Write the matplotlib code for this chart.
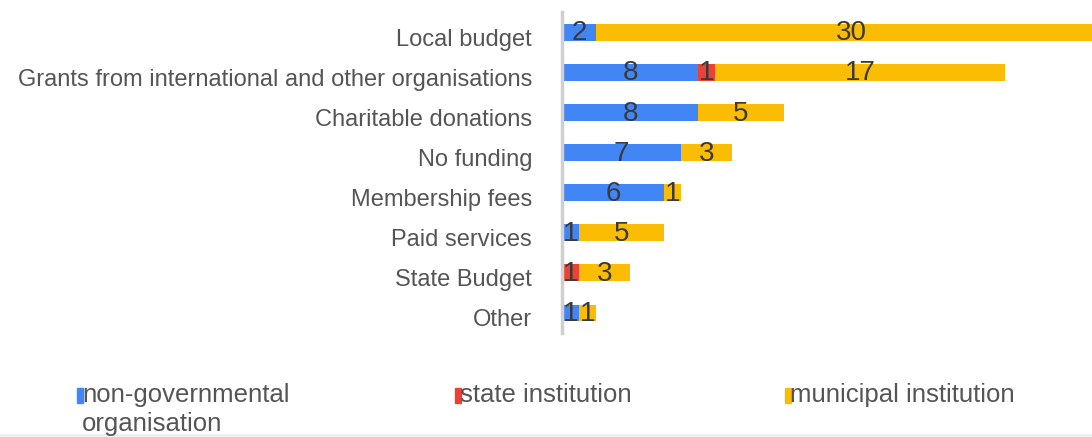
import matplotlib.pyplot as plt
from matplotlib.patches import Rectangle
from matplotlib.transforms import ScaledTranslation

plt.rcParams['font.family'] = ['Liberation Sans', 'DejaVu Sans']

categories = ['Local budget', 'Grants from international and other organisations',
              'Charitable donations', 'No funding', 'Membership fees',
              'Paid services', 'State Budget', 'Other']
ngo = [2, 8, 8, 7, 6, 1, 0, 1]
state = [0, 1, 0, 0, 0, 0, 1, 0]
municipal = [30, 17, 5, 3, 1, 5, 3, 1]

series = [('non-governmental\norganisation', ngo, '#4285F4'),
          ('state institution', state, '#EA4335'),
          ('municipal institution', municipal, '#FBBC04')]

fig = plt.figure(figsize=(10.92, 4.37), dpi=100)
ax = fig.add_axes([0.5147, 0.238, 0.4853, 0.7345])

y = list(range(len(categories)))
left = [0] * len(categories)
for name, vals, color in series:
    ax.barh(y, vals, left=left, height=0.42, color=color)
    for yi, (l, v) in enumerate(zip(left, vals)):
        if v > 0:
            ax.text(l + v / 2, yi + 0.03, str(v), ha='center', va='center',
                    fontsize=20, color='#3a3a3a', clip_on=True)
    left = [a + b for a, b in zip(left, vals)]

ax.set_ylim(len(categories) - 0.5, -0.5)
ax.set_xlim(0, 31.1)
ax.set_yticks(y)
ax.set_yticklabels(categories, fontsize=17, color='#555555')
ax.tick_params(axis='y', length=0, pad=21.6)
# category names sit a little below the bar centres
shift = ScaledTranslation(0, -5 / 100, fig.dpi_scale_trans)
for lbl in ax.get_yticklabels():
    lbl.set_transform(lbl.get_transform() + shift)
ax.set_xticks([])
for s in ['top', 'right', 'bottom']:
    ax.spines[s].set_visible(False)
ax.spines['left'].set_color('#d0d0d0')
ax.spines['left'].set_linewidth(2.5)

# legend drawn by hand along the bottom
legend_x = [77, 455, 785]
for (name, vals, color), lx in zip(series, legend_x):
    fig.patches.append(Rectangle((lx / 1092, 1 - 403 / 437), 6 / 1092, 15 / 437,
                                 transform=fig.transFigure, color=color))
    fig.text((lx + 5) / 1092, 1 - 383 / 437, name, fontsize=18.5, color='#555555',
             va='top', ha='left', linespacing=1.27)

fig.add_artist(plt.Line2D([0, 1], [1 - 435 / 437] * 2, color='#eeeeee', lw=2,
                          transform=fig.transFigure))

fig.savefig('out.png', dpi=100)
